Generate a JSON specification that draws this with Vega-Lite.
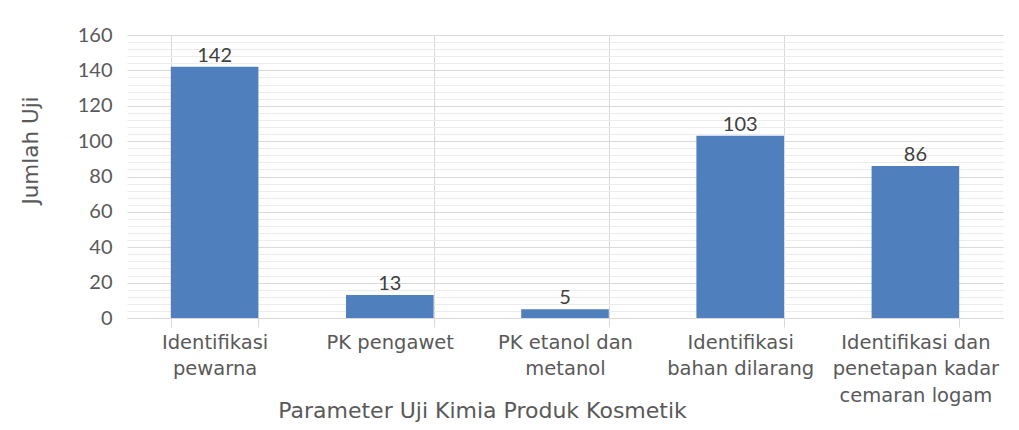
{
  "$schema": "https://vega.github.io/schema/vega-lite/v6.json",
  "autosize": "none",
  "width": 876,
  "height": 283,
  "padding": {"left": 127, "top": 35, "right": 16, "bottom": 112},
  "background": "#ffffff",
  "config": {"view": {"stroke": null}},
  "data": {
    "values": [
      {"parameter": "Identifikasi pewarna", "jumlah": 142},
      {"parameter": "PK pengawet", "jumlah": 13},
      {"parameter": "PK etanol dan metanol", "jumlah": 5},
      {"parameter": "Identifikasi bahan dilarang", "jumlah": 103},
      {"parameter": "Identifikasi dan penetapan kadar cemaran logam", "jumlah": 86}
    ]
  },
  "encoding": {
    "x": {
      "field": "parameter",
      "type": "nominal",
      "sort": null,
      "scale": {"paddingInner": 0.5, "paddingOuter": 0.25},
      "axis": {
        "title": "Parameter Uji Kimia Produk Kosmetik",
        "titleFont": "DejaVu Sans",
        "titleFontSize": 22,
        "titleFontWeight": "normal",
        "titleColor": "#595959",
        "titleX": 355,
        "titleY": 99,
        "titleAnchor": null,
        "titleAlign": "center",
        "titleBaseline": "alphabetic",
        "labelAngle": 0,
        "labelFont": "DejaVu Sans",
        "labelFontSize": 19.5,
        "labelColor": "#595959",
        "labelLineHeight": 26.5,
        "labelPadding": 6,
        "labelBaseline": "top",
        "labelLimit": 400,
        "labelExpr": "datum.label == 'Identifikasi pewarna' ? ['Identifikasi', 'pewarna'] : datum.label == 'PK etanol dan metanol' ? ['PK etanol dan', 'metanol'] : datum.label == 'Identifikasi bahan dilarang' ? ['Identifikasi', 'bahan dilarang'] : datum.label == 'Identifikasi dan penetapan kadar cemaran logam' ? ['Identifikasi dan', 'penetapan kadar', 'cemaran logam'] : datum.label",
        "tickBand": "extent",
        "ticks": true,
        "tickSize": 9,
        "tickColor": "#d9d9d9",
        "domain": true,
        "domainColor": "#d9d9d9",
        "domainWidth": 1,
        "grid": true,
        "gridColor": "#d9d9d9",
        "gridOpacity": {"condition": {"test": "datum.index == 0 || datum.index == 1", "value": 0}, "value": 1}
      }
    }
  },
  "resolve": {"axis": {"y": "independent"}},
  "layer": [
    {
      "mark": {"type": "text", "baseline": "alphabetic", "dy": -5, "font": "Lato", "fontSize": 20, "color": "#404040"},
      "encoding": {
        "y": {
          "field": "jumlah",
          "type": "quantitative",
          "scale": {"domain": [0, 160], "nice": false},
          "axis": {
            "orient": "left",
            "title": null,
            "values": [4,8,12,16,24,28,32,36,44,48,52,56,64,68,72,76,84,88,92,96,104,108,112,116,124,128,132,136,144,148,152,156],
            "labels": false,
            "ticks": false,
            "domain": false,
            "grid": true,
            "gridColor": "#ececec"
          }
        },
        "text": {"field": "jumlah", "type": "quantitative"}
      }
    },
    {
      "mark": {"type": "bar", "color": "#4f7fbd"},
      "encoding": {
        "y": {
          "field": "jumlah",
          "type": "quantitative",
          "axis": {
            "orient": "left",
            "title": "Jumlah Uji",
            "titleFont": "DejaVu Sans",
            "titleFontSize": 21.5,
            "titleFontWeight": "normal",
            "titleColor": "#595959",
            "titleAngle": -90,
            "titleX": -90,
            "titleY": 115,
            "titleAlign": "center",
            "titleBaseline": "alphabetic",
            "values": [0,20,40,60,80,100,120,140,160],
            "labelFont": "Lato",
            "labelFontSize": 20,
            "labelColor": "#595959",
            "labelPadding": 15,
            "labelOverlap": false,
            "ticks": false,
            "tickSize": 0,
            "domain": false,
            "grid": true,
            "gridColor": "#d9d9d9"
          }
        }
      }
    }
  ]
}
